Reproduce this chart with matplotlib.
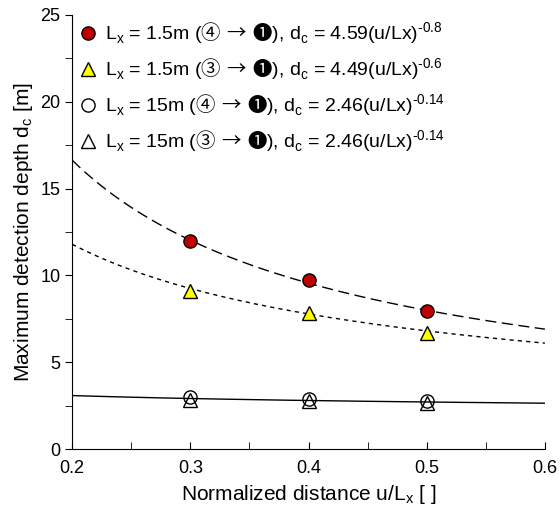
import numpy as np
import matplotlib
matplotlib.use('Agg')
import matplotlib.pyplot as plt

plt.rcParams['font.family'] = ['Liberation Sans', 'DejaVu Sans']
plt.rcParams['mathtext.fontset'] = 'custom'
plt.rcParams['mathtext.rm'] = 'Noto Sans CJK JP'

# measured points
x = [0.3, 0.4, 0.5]
d_15a = [12.0, 9.75, 7.95]   # Lx=1.5m (4 -> 1)
d_15b = [9.1, 7.85, 6.7]     # Lx=1.5m (3 -> 1)
d_150a = [3.0, 2.9, 2.75]    # Lx=15m (4 -> 1)
d_150b = [2.85, 2.75, 2.65]  # Lx=15m (3 -> 1)

# fit coefficients dc = a*(u/Lx)^b
fit_a = [4.59, 4.49, 2.46]
fit_b = [-0.8, -0.6, -0.14]

labels = [
    r'L$_\mathregular{x}$ = 1.5m ($\mathrm{④\ →\ ❶}$), d$_\mathregular{c}$ = 4.59(u/Lx)$^\mathregular{‐0.8}$',
    r'L$_\mathregular{x}$ = 1.5m ($\mathrm{③\ →\ ❶}$), d$_\mathregular{c}$ = 4.49(u/Lx)$^\mathregular{‐0.6}$',
    r'L$_\mathregular{x}$ = 15m ($\mathrm{④\ →\ ❶}$), d$_\mathregular{c}$ = 2.46(u/Lx)$^\mathregular{‐0.14}$',
    r'L$_\mathregular{x}$ = 15m ($\mathrm{③\ →\ ❶}$), d$_\mathregular{c}$ = 2.46(u/Lx)$^\mathregular{‐0.14}$',
]

fig = plt.figure(figsize=(5.6, 5.15), dpi=100)
ax = fig.add_axes([0.129, 0.128, 0.844, 0.843])

xf = np.linspace(0.2, 0.6, 200)
ax.plot(xf, fit_a[0] * xf ** fit_b[0], color='black', lw=1, dashes=(8, 4))
ax.plot(xf, fit_a[1] * xf ** fit_b[1], color='black', lw=1, dashes=(3, 3))
ax.plot(xf, fit_a[2] * xf ** fit_b[2], color='black', lw=1)

ms = 9.5
ax.plot(x, d_15a, 'o', ms=ms, mfc='#C00000', mec='black', mew=1, label=labels[0])
ax.plot(x, d_15b, '^', ms=ms, mfc='#FFFF00', mec='black', mew=1, label=labels[1])
ax.plot(x, d_150a, 'o', ms=ms, mfc='none', mec='black', mew=1, label=labels[2])
ax.plot(x, d_150b, '^', ms=ms, mfc='none', mec='black', mew=1, label=labels[3])

ax.set_xlim(0.2, 0.6)
ax.set_ylim(0, 25)
ax.set_xticks([0.2, 0.3, 0.4, 0.5, 0.6])
ax.set_xticks(np.arange(0.25, 0.6, 0.1), minor=True)
ax.set_yticks([0, 5, 10, 15, 20, 25])
ax.set_yticks([2.5, 7.5, 12.5, 17.5, 22.5], minor=True)
ax.set_xticklabels(['0.2', '0.3', '0.4', '0.5', '0.6'])
ax.tick_params(axis='x', which='both', direction='in', length=5, labelsize=13, pad=8)
ax.tick_params(axis='y', which='both', direction='out', length=5, labelsize=13)
ax.spines['top'].set_visible(False)
ax.spines['right'].set_visible(False)

ax.set_xlabel(r'Normalized distance u/L$_\mathregular{x}$ [ ]', fontsize=15)
ax.set_ylabel(r'Maximum detection depth d$_\mathregular{c}$ [m]', fontsize=15)

ax.legend(loc='upper left', frameon=False, fontsize=14, handletextpad=0.5,
          handlelength=0.8, labelspacing=0.5, borderaxespad=0.0,
          bbox_to_anchor=(0.0, 1.006))

plt.savefig('out.png', dpi=100)
